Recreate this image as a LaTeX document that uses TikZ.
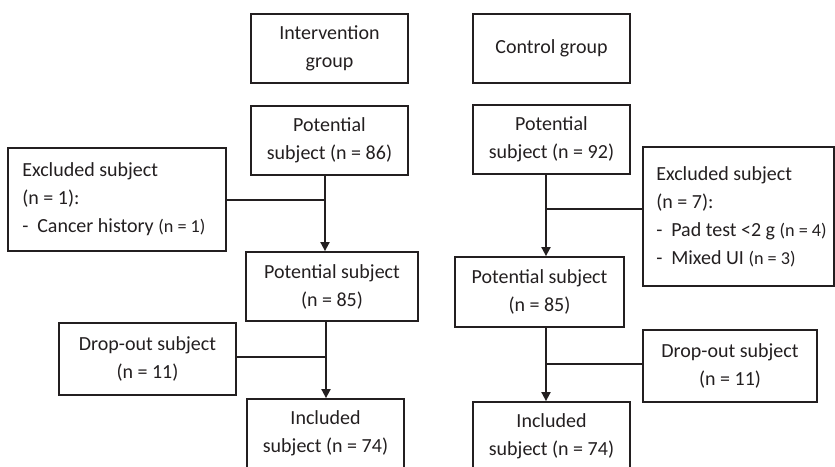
\documentclass[tikz,border=0pt]{standalone}
\usepackage{fontspec}
\setmainfont{Carlito}
\usetikzlibrary{arrows.meta}
\definecolor{ink}{RGB}{35,31,32}
\newcommand\ncountsmall[1]{{\fontsize{18.2}{28}\selectfont #1}}
\begin{document}
\begin{tikzpicture}[x=1pt,y=-1pt,
  box/.style={draw=ink, line width=1.8pt, inner sep=0pt, align=center, text=ink,
    font=\fontsize{20}{28}\selectfont},
  txt/.style={inner sep=0pt, align=left, text=ink, font=\fontsize{20}{28}\selectfont},
  link/.style={draw=ink, line width=1.8pt},
  arrow/.style={link, -{Triangle[length=9pt,width=9pt]}}]
\useasboundingbox (0,0) rectangle (835,466);
\clip (0,0) rectangle (835,466);
% left column
\node[box, minimum width=157pt, minimum height=69pt] (A1) at (329.5,48.5) {Intervention\\group};
\node[box, minimum width=157pt, minimum height=69pt] (A2) at (329.5,140.5) {Potential\\subject (n = 86)};
\node[box, minimum width=218pt, minimum height=103pt] (E1) at (117,199.5) {};
\node[txt, anchor=west] (E1t) at ([xshift=15pt]E1.west) {Excluded subject\\(n = 1):\\\makebox[15pt][l]{-}Cancer history \ncountsmall{(n = 1)}};
\node[box, minimum width=172pt, minimum height=69pt] (A3) at (332,286.5) {Potential subject\\(n = 85)};
\node[box, minimum width=177pt, minimum height=72pt] (D1) at (147.5,359) {Drop-out subject\\(n = 11)};
\node[box, minimum width=157pt, minimum height=69pt] (A4) at (325.5,433.5) {Included\\subject (n = 74)};
% right column
\node[box, minimum width=157pt, minimum height=69pt] (B1) at (551.5,48.5) {Control group};
\node[box, minimum width=157pt, minimum height=69pt] (B2) at (551.5,139.5) {Potential\\subject (n = 92)};
\node[box, minimum width=191pt, minimum height=139pt] (E2) at (738.5,216.5) {};
\node[txt, anchor=west] (E2t) at ([xshift=14pt]E2.west) {Excluded subject\\(n = 7):\\\makebox[15pt][l]{-}Pad test <2 g \ncountsmall{(n = 4)}\\\makebox[15pt][l]{-}Mixed UI \ncountsmall{(n = 3)}};
\node[box, minimum width=169pt, minimum height=70pt] (B3) at (539.5,292) {Potential subject\\(n = 85)};
\node[box, minimum width=174pt, minimum height=72pt] (D2) at (730,366) {Drop-out subject\\(n = 11)};
\node[box, minimum width=157pt, minimum height=69pt] (B4) at (551.5,436.5) {Included\\subject (n = 74)};
% connectors
\coordinate (sL1) at (325,200);
\coordinate (sL2) at (326,357);
\coordinate (sR1) at (546,209);
\coordinate (sR2) at (546,364);
\draw[arrow] (A2.south -| sL1) -- (A3.north -| sL1);
\draw[link] (E1.east |- sL1) -- (sL1);
\draw[arrow] (A3.south -| sL2) -- (A4.north -| sL2);
\draw[link] (D1.east |- sL2) -- (sL2);
\draw[arrow] (B2.south -| sR1) -- (B3.north -| sR1);
\draw[link] (E2.west |- sR1) -- (sR1);
\draw[arrow] (B3.south -| sR2) -- (B4.north -| sR2);
\draw[link] (D2.west |- sR2) -- (sR2);
\end{tikzpicture}
\end{document}
